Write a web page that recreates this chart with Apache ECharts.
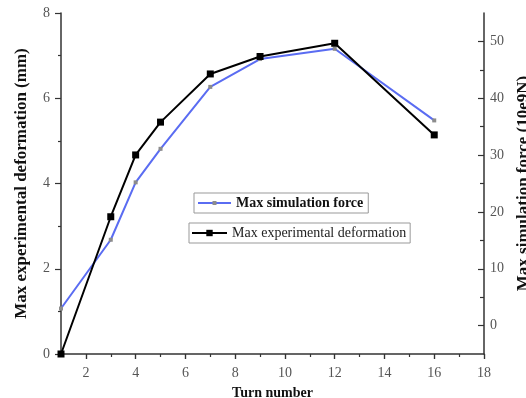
<!DOCTYPE html>
<html>
<head>
<meta charset="utf-8">
<script src="https://cdn.jsdelivr.net/npm/echarts@6/dist/echarts.min.js"></script>
<style>
html,body{margin:0;padding:0;background:#fff;}
#chart{width:526px;height:398px;}
</style>
</head>
<body>
<div id="chart"></div>
<script>
var turns = [1, 3, 4, 5, 7, 9, 12, 16];
var deformation = [0, 3.22, 4.67, 5.44, 6.57, 6.98, 7.29, 5.14];
var force = [3.0, 15.1, 25.2, 31.1, 42.0, 46.9, 48.7, 36.1];
var xMajorTicks = [2, 4, 6, 8, 10, 12, 14, 16, 18];
var xMinorTicks = [3, 5, 7, 9, 11, 13, 15, 17];
var rightMajorTicks = [0, 10, 20, 30, 40, 50];
var rightMinorTicks = [5, 15, 25, 35, 45];

var FONT = 'Liberation Serif';
var axisColor = '#333';
var labelColor = '#555';

function gridAt(top, bottom) {
  return {left: 61, right: 42, top: top, bottom: bottom, containLabel: false, outerBoundsMode: 'none'};
}
function hiddenAxis(gridIndex, min, max) {
  return {gridIndex: gridIndex, type: 'value', min: min, max: max, show: false};
}

var chart = echarts.init(document.getElementById('chart'), null, {renderer: 'canvas'});
var option = {
  animation: false,
  backgroundColor: '#fff',
  textStyle: {fontFamily: FONT},
  grid: [gridAt(13, 44), gridAt(359, 20), gridAt(357, 20), gridAt(13, 44)],
  legend: [
    {
      data: ['Max simulation force'],
      left: 194, top: 193,
      orient: 'vertical',
      itemWidth: 33, itemHeight: 5, itemGap: 0,
      padding: [3, 5, 3, 3],
      borderColor: '#999', borderWidth: 1,
      textStyle: {fontFamily: FONT, fontSize: 14, fontWeight: 'bold', color: '#111'}
    },
    {
      data: ['Max experimental deformation'],
      left: 189, top: 223,
      orient: 'vertical',
      itemWidth: 35, itemHeight: 8, itemGap: 0,
      padding: [3, 4, 3, 2],
      borderColor: '#999', borderWidth: 1,
      textStyle: {fontFamily: FONT, fontSize: 14, color: '#222'}
    }
  ],
  xAxis: [
    {
      gridIndex: 0, type: 'value', min: 1, max: 18, position: 'bottom',
      name: 'Turn number', nameLocation: 'middle', nameGap: 32,
      nameTextStyle: {fontFamily: FONT, fontSize: 14, fontWeight: 'bold', color: '#111'},
      axisLine: {show: true, onZero: false, lineStyle: {color: axisColor, width: 1.5}},
      axisTick: {show: true, length: 5, customValues: xMajorTicks, lineStyle: {color: axisColor, width: 1.2}},
      axisLabel: {customValues: xMajorTicks, margin: 12, fontFamily: FONT, fontSize: 14, color: labelColor},
      splitLine: {show: false}
    },
    {
      gridIndex: 1, type: 'value', min: 1, max: 18, position: 'top',
      axisLine: {show: false, onZero: false},
      axisTick: {show: true, inside: false, length: 5, customValues: xMajorTicks, lineStyle: {color: axisColor, width: 1.2}},
      axisLabel: {show: false},
      splitLine: {show: false}
    },
    {
      gridIndex: 2, type: 'value', min: 1, max: 18, position: 'top',
      axisLine: {show: false, onZero: false},
      axisTick: {show: true, inside: false, length: 3, customValues: xMinorTicks, lineStyle: {color: axisColor, width: 1.2}},
      axisLabel: {show: false},
      splitLine: {show: false}
    },
    hiddenAxis(3, 1, 18)
  ],
  yAxis: [
    {
      gridIndex: 0, type: 'value', min: 0, max: 8, interval: 2, position: 'left',
      name: 'Max experimental deformation (mm)', nameLocation: 'middle', nameGap: 31, nameRotate: 90,
      nameTextStyle: {fontFamily: FONT, fontSize: 17, fontWeight: 'bold', color: '#111'},
      axisLine: {show: true, onZero: false, lineStyle: {color: axisColor, width: 1.5}},
      axisTick: {show: true, length: 6, lineStyle: {color: axisColor, width: 1.2}},
      minorTick: {show: true, splitNumber: 2, length: 3, lineStyle: {color: axisColor, width: 1.2}},
      axisLabel: {margin: 11, fontFamily: FONT, fontSize: 14, color: labelColor},
      splitLine: {show: false}
    },
    {
      gridIndex: 0, type: 'value', min: -5, max: 55, position: 'right',
      name: 'Max simulation force (10e9N)', nameLocation: 'middle', nameGap: 26, nameRotate: 90,
      nameTextStyle: {fontFamily: FONT, fontSize: 17, fontWeight: 'bold', color: '#111'},
      axisLine: {show: true, onZero: false, lineStyle: {color: axisColor, width: 1.5}},
      axisTick: {show: true, inside: true, length: 6, customValues: rightMajorTicks, lineStyle: {color: axisColor, width: 1.2}},
      axisLabel: {customValues: rightMajorTicks, margin: 6, fontFamily: FONT, fontSize: 14, color: labelColor},
      splitLine: {show: false}
    },
    {
      gridIndex: 3, type: 'value', min: -5, max: 55, position: 'right',
      axisLine: {show: false, onZero: false},
      axisTick: {show: true, inside: true, length: 4, customValues: rightMinorTicks, lineStyle: {color: axisColor, width: 1.2}},
      axisLabel: {show: false},
      splitLine: {show: false}
    },
    hiddenAxis(1, 0, 1),
    hiddenAxis(2, 0, 1)
  ],
  series: [
    {
      name: 'Max simulation force', type: 'line',
      xAxisIndex: 0, yAxisIndex: 1,
      data: turns.map(function (t, i) { return [t, force[i]]; }),
      symbol: 'rect', symbolSize: 4,
      itemStyle: {color: '#8c8c8c'},
      lineStyle: {color: '#5a6cf2', width: 2},
      z: 2
    },
    {
      name: 'Max experimental deformation', type: 'line',
      xAxisIndex: 0, yAxisIndex: 0,
      data: turns.map(function (t, i) { return [t, deformation[i]]; }),
      symbol: 'rect', symbolSize: 7,
      itemStyle: {color: '#000'},
      lineStyle: {color: '#000', width: 2},
      z: 3
    }
  ]
};
chart.setOption(option);
</script>
</body>
</html>
